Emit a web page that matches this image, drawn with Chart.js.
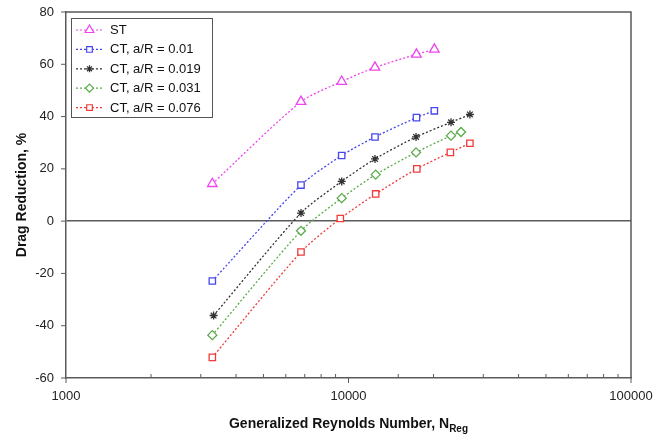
<!DOCTYPE html>
<html>
<head>
<meta charset="utf-8">
<script src="https://cdn.jsdelivr.net/npm/chart.js@4"></script>
<style>
  html, body { margin: 0; padding: 0; background: #fff; }
  canvas { display: block; }
</style>
</head>
<body>
<canvas id="canvas_dr" width="665" height="440"></canvas>
<script>
// values
var seriesNames = ['ST', 'CT, a/R = 0.01', 'CT, a/R = 0.019', 'CT, a/R = 0.031', 'CT, a/R = 0.076'];

var stX = [3296, 6790, 9460, 12410, 17400, 20130];
var stY = [14.3, 45.7, 53.4, 58.8, 63.8, 65.7];

var ct01X = [3296, 6790, 9460, 12410, 17400, 20130];
var ct01Y = [-22.9, 13.8, 25.1, 32.2, 39.6, 42.2];

var ct019X = [3330, 6790, 9460, 12410, 17340, 23060, 26900];
var ct019Y = [-36.1, 3.1, 15.2, 23.8, 32.2, 37.8, 40.8];

var ct031X = [3296, 6790, 9460, 12480, 17340, 23060, 25020];
var ct031Y = [-43.6, -3.7, 8.8, 17.8, 26.3, 32.7, 34.1];

var ct076X = [3296, 6790, 9355, 12480, 17450, 22940, 26900];
var ct076Y = [-52.1, -11.8, 1.0, 10.4, 20.0, 26.3, 29.8];

var xMin = 1000, xMax = 100000;
var yMin = -60, yMax = 80, yStep = 20;

var xTitle = 'Generalized Reynolds Number, N';
var xTitleSub = 'Reg';
var yTitle = 'Drag Reduction, %';

function pts(xs, ys) {
	var out = [];
	for (var i in xs) out.push({x: xs[i], y: ys[i]});
	return out;
}

function mkSet(name, xs, ys, color, style, radius) {
	return {
		label: name,
		data: pts(xs, ys),
		showLine: true,
		borderColor: color,
		borderWidth: 1.3,
		borderDash: [2, 2],
		tension: 0.25,
		pointStyle: style,
		pointRadius: radius,
		pointHoverRadius: radius,
		pointBorderColor: color,
		pointBackgroundColor: '#ffffff',
		pointBorderWidth: 1.3
	};
}

var FONT = '"Liberation Sans", Arial, sans-serif';
var AXIS_COL = '#5a5a5a';

// frame, tick marks, titles and the legend box
var decorPlugin = {
	id: 'decor',
	afterDraw: function(chart) {
		var ctx = chart.ctx, a = chart.chartArea;
		var xs = chart.scales.x, ys = chart.scales.y;
		ctx.save();
		ctx.strokeStyle = AXIS_COL;
		ctx.lineWidth = 1.5;
		ctx.beginPath();
		ctx.moveTo(a.left, a.top); ctx.lineTo(a.right, a.top); ctx.lineTo(a.right, a.bottom);
		ctx.stroke();

		ctx.lineWidth = 1;
		ctx.beginPath();
		xs.ticks.forEach(function(t) {
			var px = xs.getPixelForValue(t.value);
			var lg = Math.log10(t.value);
			if (Math.abs(lg - Math.round(lg)) < 1e-9) {
				ctx.moveTo(px, a.bottom); ctx.lineTo(px, a.bottom + 5);
			} else {
				ctx.moveTo(px, a.bottom); ctx.lineTo(px, a.bottom - 4);
			}
		});
		ys.ticks.forEach(function(t) {
			var py = ys.getPixelForValue(t.value);
			ctx.moveTo(a.left - 5, py); ctx.lineTo(a.left, py);
		});
		ctx.stroke();

		// axis titles
		ctx.fillStyle = '#111';
		ctx.font = 'bold 14px ' + FONT;
		var mainW = ctx.measureText(xTitle).width;
		ctx.font = 'bold 10px ' + FONT;
		var subW = ctx.measureText(xTitleSub).width;
		var cx = (a.left + a.right) / 2;
		var x0 = cx - (mainW + subW) / 2;
		ctx.textBaseline = 'alphabetic';
		ctx.textAlign = 'left';
		ctx.font = 'bold 14px ' + FONT;
		ctx.fillText(xTitle, x0, 428);
		ctx.font = 'bold 10px ' + FONT;
		ctx.fillText(xTitleSub, x0 + mainW, 432);

		ctx.save();
		ctx.translate(22, (a.top + a.bottom) / 2);
		ctx.rotate(-Math.PI / 2);
		ctx.font = 'bold 14px ' + FONT;
		ctx.textAlign = 'center';
		ctx.textBaseline = 'middle';
		ctx.fillText(yTitle, 0, 0);
		ctx.restore();

		// legend
		var bx = 71, by = 18, bw = 141, bh = 99;
		ctx.fillStyle = '#fff';
		ctx.fillRect(bx, by, bw, bh);
		ctx.strokeStyle = '#555';
		ctx.lineWidth = 1;
		ctx.strokeRect(bx + 0.5, by + 0.5, bw, bh);
		chart.data.datasets.forEach(function(ds, i) {
			var ry = 30 + i * 19.4;
			ctx.strokeStyle = ds.borderColor;
			ctx.lineWidth = 1.2;
			ctx.setLineDash([2, 2]);
			ctx.beginPath();
			ctx.moveTo(76, ry); ctx.lineTo(103, ry);
			ctx.stroke();
			ctx.setLineDash([]);
			ctx.fillStyle = '#ffffff';
			ctx.strokeStyle = ds.borderColor;
			Chart.helpers.drawPoint(ctx, {
				pointStyle: ds.pointStyle,
				radius: ds.pointRadius - 0.5,
				rotation: 0,
				borderWidth: 1.2
			}, 89.5, ry);
			ctx.fillStyle = '#111';
			ctx.font = '13px ' + FONT;
			ctx.textAlign = 'left';
			ctx.textBaseline = 'middle';
			ctx.fillText(ds.label, 110, ry + 0.5);
		});
		ctx.restore();
	}
};

var configDR = {
	type: 'scatter',
	data: {
		datasets: [
			mkSet(seriesNames[0], stX, stY, '#ee44ee', 'triangle', 5.5),
			mkSet(seriesNames[1], ct01X, ct01Y, '#4646ee', 'rect', 4.5),
			mkSet(seriesNames[2], ct019X, ct019Y, '#333333', 'star', 4),
			mkSet(seriesNames[3], ct031X, ct031Y, '#5aaa4a', 'rectRot', 4.5),
			mkSet(seriesNames[4], ct076X, ct076Y, '#ee3b3b', 'rect', 4.5)
		]
	},
	options: {
		responsive: false,
		animation: false,
		layout: { padding: { left: 0, top: 12, right: 34, bottom: 0 } },
		plugins: {
			legend: { display: false },
			tooltip: { enabled: false }
		},
		scales: {
			x: {
				type: 'logarithmic',
				min: xMin,
				max: xMax,
				afterFit: function(s) { s.height = 62; s.paddingLeft = 0; s.paddingRight = 0; },
				border: { display: true, color: AXIS_COL, width: 1.5 },
				grid: { display: true, drawOnChartArea: false, drawTicks: false, color: 'transparent' },
				ticks: {
					autoSkip: false,
					maxRotation: 0,
					padding: 11,
					color: '#222',
					font: { family: FONT, size: 13 },
					callback: function(v) {
						var lg = Math.log10(v);
						return Math.abs(lg - Math.round(lg)) < 1e-9 ? String(v) : '';
					}
				}
			},
			y: {
				min: yMin,
				max: yMax,
				afterFit: function(s) { s.width = 66; s.paddingTop = 0; s.paddingBottom = 0; },
				border: { display: true, color: AXIS_COL, width: 1.5 },
				grid: {
					drawTicks: false,
					lineWidth: 1.5,
					color: function(c) { return c.tick && c.tick.value === 0 ? AXIS_COL : 'transparent'; }
				},
				ticks: {
					stepSize: yStep,
					padding: 12,
					color: '#222',
					font: { family: FONT, size: 13 }
				}
			}
		}
	},
	plugins: [decorPlugin]
};

var ctx_dr = document.getElementById('canvas_dr').getContext('2d');
new Chart(ctx_dr, configDR);
</script>
</body>
</html>
